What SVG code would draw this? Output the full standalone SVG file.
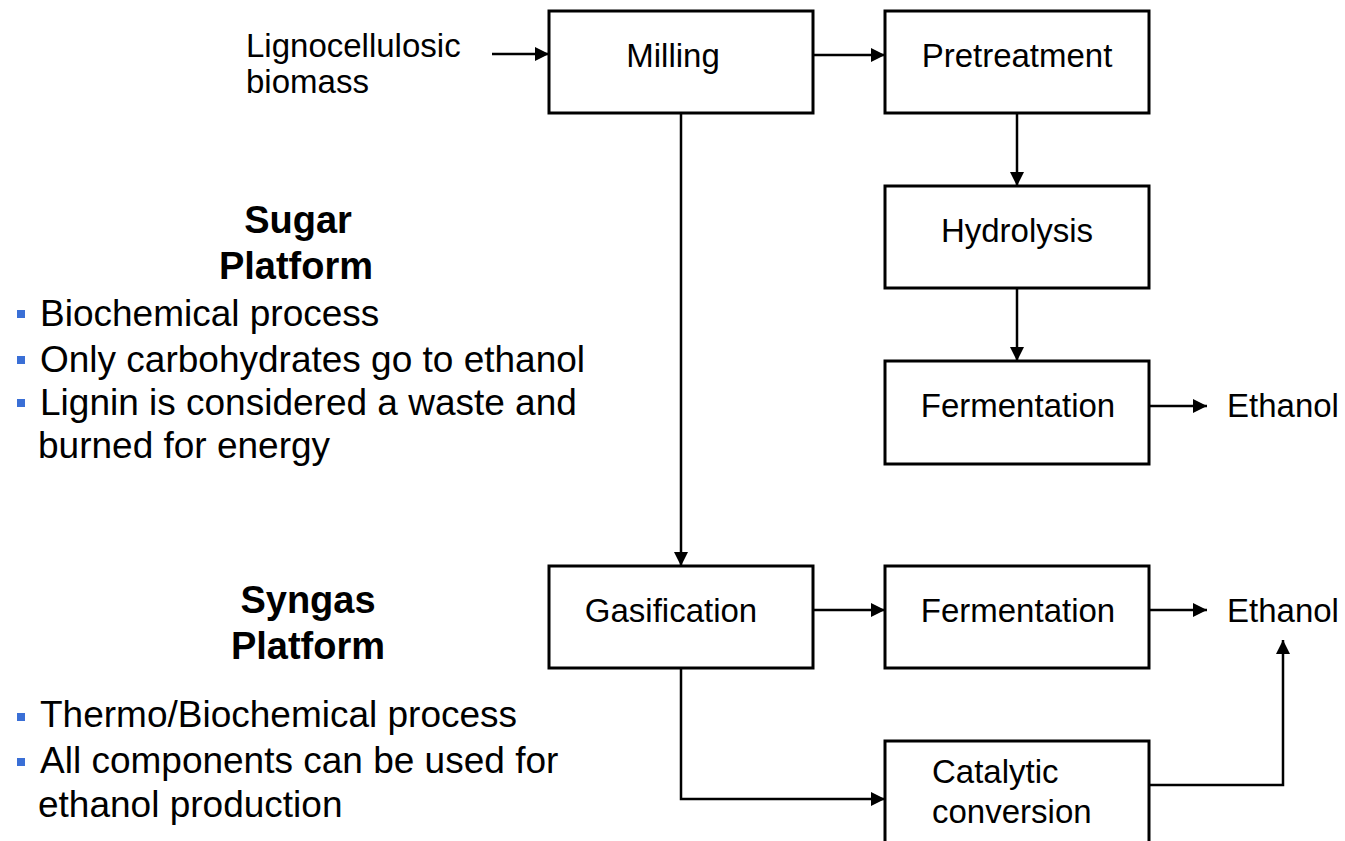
<svg xmlns="http://www.w3.org/2000/svg" width="1345" height="841" viewBox="0 0 1345 841">
<style>
.box{fill:#fff;stroke:#000;stroke-width:3}
.lbl{font-family:"Liberation Sans",Arial,sans-serif;font-size:33px;fill:#000}
.mid{text-anchor:middle}
.ttl{font-family:"Liberation Sans",Arial,sans-serif;font-size:38px;font-weight:bold;fill:#000;text-anchor:middle}
.txt{font-family:"Liberation Sans",Arial,sans-serif;font-size:37px;fill:#000}
.bul{fill:#3a6fd6}
.con{fill:none;stroke:#000;stroke-width:2.5}
</style>
<defs>
<marker id="ah" markerUnits="userSpaceOnUse" markerWidth="15" markerHeight="14" refX="14" refY="7" orient="auto">
<path d="M0,0 L14,7 L0,14 z" fill="#000"/>
</marker>
</defs>
<rect width="1345" height="841" fill="#fff"/>

<g id="input-label">
<text class="lbl" x="246" y="57">Lignocellulosic</text>
<text class="lbl" x="246" y="93">biomass</text>
</g>

<g id="milling"><rect class="box" x="549" y="11" width="264" height="102"/><text class="lbl mid" x="673" y="67">Milling</text></g>
<g id="pretreatment"><rect class="box" x="885" y="11" width="264" height="102"/><text class="lbl mid" x="1017" y="67">Pretreatment</text></g>
<g id="hydrolysis"><rect class="box" x="885" y="186" width="264" height="102"/><text class="lbl mid" x="1017" y="242">Hydrolysis</text></g>
<g id="fermentation1"><rect class="box" x="885" y="361" width="264" height="103"/><text class="lbl mid" x="1018" y="417">Fermentation</text></g>
<g id="ethanol1"><text class="lbl" x="1227" y="417">Ethanol</text></g>

<g id="gasification"><rect class="box" x="549" y="566" width="264" height="102"/><text class="lbl mid" x="671" y="622">Gasification</text></g>
<g id="fermentation2"><rect class="box" x="885" y="566" width="264" height="102"/><text class="lbl mid" x="1018" y="622">Fermentation</text></g>
<g id="ethanol2"><text class="lbl" x="1227" y="622">Ethanol</text></g>
<g id="catalytic"><rect class="box" x="885" y="741" width="264" height="110"/><text class="lbl" x="932" y="783">Catalytic</text><text class="lbl" x="932" y="823">conversion</text></g>

<g id="sugar-platform">
<text class="ttl" x="298" y="233">Sugar</text>
<text class="ttl" x="296" y="279">Platform</text>
<rect class="bul" x="17" y="310" width="8" height="8"/>
<text class="txt" x="40" y="326">Biochemical process</text>
<rect class="bul" x="17" y="356" width="8" height="8"/>
<text class="txt" x="40" y="372">Only carbohydrates go to ethanol</text>
<rect class="bul" x="17" y="399" width="8" height="8"/>
<text class="txt" x="40" y="415">Lignin is considered a waste and</text>
<text class="txt" x="38" y="458">burned for energy</text>
</g>

<g id="syngas-platform">
<text class="ttl" x="308" y="613">Syngas</text>
<text class="ttl" x="308" y="659">Platform</text>
<rect class="bul" x="17" y="713" width="8" height="8"/>
<text class="txt" x="40" y="727">Thermo/Biochemical process</text>
<rect class="bul" x="17" y="758" width="8" height="8"/>
<text class="txt" x="40" y="773">All components can be used for</text>
<text class="txt" x="38" y="817">ethanol production</text>
</g>

<g id="connectors">
<line class="con" x1="492" y1="54" x2="549" y2="54" marker-end="url(#ah)"/>
<line class="con" x1="813" y1="55" x2="885" y2="55" marker-end="url(#ah)"/>
<line class="con" x1="1017" y1="113" x2="1017" y2="186" marker-end="url(#ah)"/>
<line class="con" x1="1017" y1="288" x2="1017" y2="361" marker-end="url(#ah)"/>
<line class="con" x1="1149" y1="406" x2="1207" y2="406" marker-end="url(#ah)"/>
<line class="con" x1="681" y1="113" x2="681" y2="566" marker-end="url(#ah)"/>
<line class="con" x1="813" y1="610" x2="885" y2="610" marker-end="url(#ah)"/>
<line class="con" x1="1149" y1="610" x2="1207" y2="610" marker-end="url(#ah)"/>
<polyline class="con" points="681,668 681,799 885,799" marker-end="url(#ah)"/>
<polyline class="con" points="1149,785 1283,785 1283,640" marker-end="url(#ah)"/>
</g>
</svg>
